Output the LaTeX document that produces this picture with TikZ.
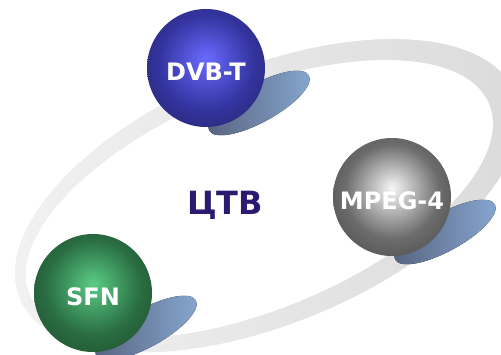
\documentclass[tikz,border=0pt]{standalone}
\usepackage{fontspec}
\setmainfont{DejaVu Sans}
\definecolor{kolco}{HTML}{E6E6E6}
\definecolor{kolco1}{HTML}{F2F2F2}
\definecolor{kolco2}{HTML}{DADADA}
\definecolor{ten1}{HTML}{56627E}
\definecolor{ten2}{HTML}{88A8D2}
\definecolor{sinij1}{HTML}{6A6AFF}
\definecolor{sinij2}{HTML}{3434A0}
\definecolor{sinij3}{HTML}{1A1A48}
\definecolor{seryj1}{HTML}{F6F6F6}
\definecolor{seryj2}{HTML}{6C6C6C}
\definecolor{seryj3}{HTML}{333333}
\definecolor{zelenyj1}{HTML}{5ACC86}
\definecolor{zelenyj2}{HTML}{2A6E42}
\definecolor{zelenyj3}{HTML}{173820}
\definecolor{ctvtext}{HTML}{2B1A70}
\pgfdeclareradialshading{sinij}{\pgfpoint{0bp}{4bp}}{color(0bp)=(sinij1);color(20bp)=(sinij2);color(44bp)=(sinij3);color(50bp)=(sinij3)}
\pgfdeclareradialshading{seryj}{\pgfpoint{0bp}{4bp}}{color(0bp)=(seryj1);color(20bp)=(seryj2);color(44bp)=(seryj3);color(50bp)=(seryj3)}
\pgfdeclareradialshading{zelenyj}{\pgfpoint{0bp}{4bp}}{color(0bp)=(zelenyj1);color(20bp)=(zelenyj2);color(44bp)=(zelenyj3);color(50bp)=(zelenyj3)}
\tikzset{
  shar/.style={circle, minimum size=118pt, inner sep=0pt, text=white, text height=25pt,
    font=\bfseries\fontsize{24}{28}\selectfont},
  ten/.style={left color=ten1, right color=ten2}
}
\begin{document}
\begin{tikzpicture}[x=1pt,y=1pt]
\newcommand\shar[3]{
\fill[ten, rotate around={29:(53,-35)}] (53,-35) ellipse (57pt and 19pt);
\node[shar, shading=#2] (#1) at (0,0) {#3};
}
\useasboundingbox (0,0) rectangle (501,354);
\clip (0,0) rectangle (501,354);
\path[even odd rule, fill=kolco, left color=kolco1, right color=kolco2, rotate around={22.5:(262,156)}]
  (268,156) ellipse (268pt and 128pt) (259,156) ellipse (249pt and 110pt);
\begin{scope}[shift={(206,286)}]
\shar{dvb}{sinij}{DVB-T}
\end{scope}
\begin{scope}[shift={(392,157)}]
\shar{mpeg}{seryj}{MPEG-4}
\end{scope}
\begin{scope}[shift={(93,61)}]
\shar{sfn}{zelenyj}{SFN}
\end{scope}
\node[text=ctvtext, font=\bfseries\fontsize{32}{36}\selectfont] (ctv) at (225,149) {ЦТВ};
\end{tikzpicture}
\end{document}
